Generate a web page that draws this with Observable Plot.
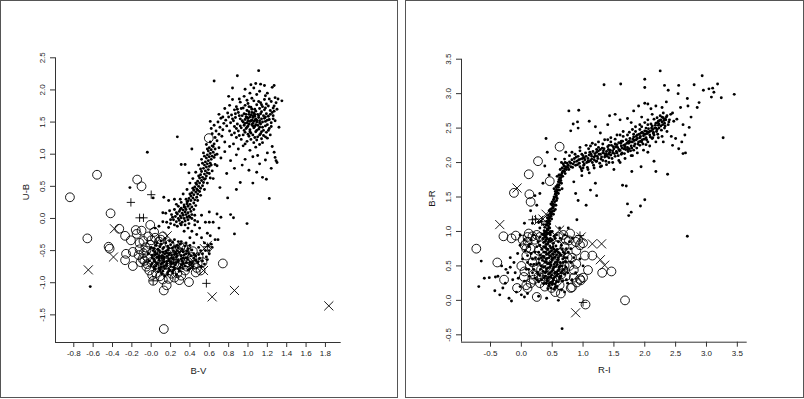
<!DOCTYPE html>
<html><head><meta charset="utf-8">
<script src="https://cdn.jsdelivr.net/npm/d3@7"></script>
<script src="https://cdn.jsdelivr.net/npm/@observablehq/plot@0.6"></script>
<style>
html,body{margin:0;padding:0;background:#fff;}
#wrap{position:relative;width:804px;height:399px;overflow:hidden;background:#fff;}
.panel{position:absolute;top:0;}
.frame{position:absolute;border:1px solid #555;box-sizing:border-box;background:transparent;}
</style></head><body>
<div id="wrap">
 <div class="panel" id="p1" style="left:0"></div>
 <div class="panel" id="p2" style="left:405px"></div>
 <div class="frame" style="left:0;top:0;width:398px;height:398px"></div>
 <div class="frame" style="left:405px;top:0;width:399px;height:398px"></div>
</div>
<script>
// ---------- Left panel: B-V vs U-B ----------
const leftXTicks = [-0.8,-0.6,-0.4,-0.2,0,0.2,0.4,0.6,0.8,1.0,1.2,1.4,1.6,1.8];
const leftXLabels = ["-0.8","-0.6","-0.4","-0.2","-0.0","0.2","0.4","0.6","0.8","1.0","1.2","1.4","1.6","1.8"];
const leftYTicks = [-1.5,-1.0,-0.5,0,0.5,1.0,1.5,2.0,2.5];
const leftYLabels = ["-1.5","-1.0","-0.5","0.0","0.5","1.0","1.5","2.0","2.5"];

const leftDots = [
// red giant clump
[0.92,1.81],[1.00,1.79],[1.06,1.83],[1.13,1.80],[1.19,1.78],[1.24,1.82],
[0.88,1.74],[0.97,1.76],[1.03,1.73],[1.09,1.77],[1.15,1.74],[1.21,1.75],[1.26,1.72],
[0.86,1.69],[0.93,1.71],[0.99,1.68],[1.04,1.70],[1.08,1.67],[1.12,1.71],[1.17,1.69],[1.23,1.68],
[0.90,1.65],[0.96,1.63],[1.01,1.66],[1.06,1.64],[1.10,1.62],[1.14,1.66],[1.19,1.63],[1.25,1.65],
[0.83,1.61],[0.94,1.60],[0.98,1.58],[1.03,1.61],[1.07,1.59],[1.11,1.57],[1.16,1.60],[1.21,1.59],
[0.87,1.57],[0.92,1.55],[0.97,1.54],[1.00,1.56],[1.04,1.53],[1.08,1.55],[1.12,1.52],[1.17,1.56],[1.22,1.54],
[0.85,1.52],[0.95,1.50],[0.99,1.49],[1.02,1.51],[1.05,1.48],[1.09,1.50],[1.13,1.47],[1.18,1.51],[1.24,1.49],
[0.89,1.47],[0.96,1.45],[1.00,1.44],[1.04,1.46],[1.07,1.43],[1.10,1.45],[1.15,1.42],[1.20,1.46],
[0.93,1.41],[0.98,1.40],[1.02,1.38],[1.06,1.41],[1.11,1.39],[1.16,1.37],[1.22,1.40],
[0.90,1.36],[0.97,1.34],[1.03,1.33],[1.08,1.35],[1.13,1.32],[1.19,1.34],
[0.95,1.30],[1.01,1.28],[1.05,1.30],[1.10,1.27],[1.16,1.29],
[1.03,1.23],[1.09,1.22],[1.14,1.24],[0.99,1.20],
[1.01,1.62],[1.05,1.57],[1.03,1.52],[1.07,1.62],[0.98,1.62],[1.09,1.53],[1.06,1.51],[1.02,1.58],[1.11,1.60],[1.14,1.55],[1.00,1.52],[1.04,1.65],[0.97,1.48],[1.08,1.46],[1.12,1.49],
[0.95,1.72],[1.01,1.74],[1.07,1.70],[1.14,1.77],[1.18,1.72],[0.91,1.60],[0.99,1.57],[1.05,1.60],[1.13,1.63],[1.18,1.58],[0.94,1.52],[1.01,1.47],[1.07,1.53],[1.15,1.50],[1.20,1.53],[0.92,1.44],[0.99,1.42],[1.05,1.44],[1.12,1.42],[1.18,1.44],[0.96,1.37],[1.02,1.35],[1.09,1.37],[1.14,1.35],[1.21,1.37],[1.00,1.31],[1.07,1.26],[1.12,1.30],[1.18,1.27],[1.23,1.30],[0.88,1.40],[0.86,1.33],[0.91,1.29],[0.87,1.63],[0.89,1.70],[1.11,1.82],[1.04,1.87],[0.99,1.84],[1.17,1.85],[1.22,1.86],[1.26,1.55],[1.23,1.62],[1.27,1.67],[1.24,1.43],[1.20,1.25],[0.93,1.23],[0.97,1.16],[1.06,1.18],[1.12,1.15],
// upper sparse
[1.11,2.30],[0.89,2.22],[0.65,2.14],[1.03,2.08],[1.08,2.10],[1.17,2.07],[1.27,2.07],[1.25,2.04],[1.13,2.09],[0.84,2.03],[0.97,2.01],[1.06,2.03],[1.12,1.98],[1.20,1.95],[1.28,1.88],[1.35,1.83],[1.31,1.86],[1.18,1.91],[1.09,1.93],[0.96,1.90],[1.02,1.95],[0.91,1.86],[0.81,1.76],[0.76,1.71],[1.29,1.80],[1.27,1.75],[1.30,1.70],[1.26,1.60],[1.28,1.52],[1.32,1.42],[0.84,1.85],[0.80,1.90],
// clump left extension
[0.61,1.51],[0.62,1.40],[0.65,1.45],[0.67,1.36],[0.69,1.50],[0.71,1.42],[0.72,1.56],[0.74,1.38],[0.75,1.48],[0.77,1.53],[0.78,1.44],[0.80,1.58],[0.81,1.36],[0.82,1.49],[0.84,1.55],[0.79,1.64],[0.70,1.31],[0.66,1.26],[0.68,1.21],[0.73,1.28],[0.76,1.19],[0.64,1.12],[0.63,1.32],[0.86,1.43],[0.83,1.30],[0.88,1.26],[0.70,1.62],[0.74,1.58],
// sparse below clump
[0.70,1.10],[0.76,1.04],[0.81,1.12],[0.85,1.16],[0.90,1.08],[0.95,1.13],[1.02,1.06],[1.08,1.11],[1.15,1.18],[1.20,1.02],[1.25,1.12],[0.72,0.94],[0.82,0.90],[0.88,0.99],[0.97,0.92],[1.05,0.96],[1.12,0.85],[1.18,0.91],[1.28,0.95],[1.29,0.90],[1.30,0.87],[0.68,0.82],[0.78,0.70],[0.86,0.78],[0.94,0.83],[1.01,0.75],[1.09,0.72],[1.15,0.64],[1.24,0.78],[0.92,0.56],[1.05,0.55],[1.19,0.61],[0.79,0.32],[1.22,0.31],[0.66,0.99],[0.99,-0.08],[0.82,0.06],[0.85,0.01],[0.86,-0.24],[1.27,1.03],[0.64,0.62],[0.71,0.48],[0.88,0.45],[1.10,0.98],
// scattered
[-0.04,1.03],[0.27,1.27],[0.42,1.08],[0.31,0.84],[0.35,0.84],[0.39,0.71],[-0.22,0.48],[0.02,0.32],[0.13,0.33],[0.18,0.28],[0.24,0.30],[-0.63,-1.06],[0.12,0.09],[0.15,0.08],[0.12,-0.05],[0.16,-0.06],[0.20,-0.02],[0.08,-0.12],[0.04,-0.15],[0.18,-0.14],
// main sequence band
[0.24,-0.10],[0.27,-0.12],[0.30,-0.08],[0.26,-0.05],[0.29,-0.03],[0.32,-0.06],[0.35,-0.04],[0.23,-0.02],[0.28,0.00],[0.31,0.01],[0.34,0.00],[0.37,0.02],[0.25,0.03],[0.30,0.04],[0.33,0.05],[0.36,0.06],[0.39,0.04],[0.27,0.07],[0.32,0.08],[0.35,0.10],[0.38,0.09],[0.41,0.11],[0.29,0.11],[0.33,0.13],[0.36,0.14],[0.40,0.15],[0.31,0.16],[0.35,0.17],[0.38,0.19],[0.42,0.18],[0.34,0.21],[0.37,0.23],[0.40,0.22],[0.44,0.24],[0.38,0.27],[0.41,0.28],[0.45,0.29],[0.39,0.31],[0.43,0.32],[0.47,0.33],[0.41,0.35],[0.44,0.37],[0.48,0.38],[0.42,0.40],[0.46,0.41],[0.50,0.42],[0.44,0.44],[0.47,0.46],[0.51,0.47],[0.45,0.49],[0.49,0.50],[0.53,0.51],[0.47,0.53],[0.50,0.55],[0.54,0.56],[0.48,0.58],[0.52,0.59],[0.55,0.61],[0.50,0.63],[0.53,0.64],[0.57,0.66],[0.51,0.68],[0.55,0.69],[0.58,0.71],[0.52,0.73],[0.56,0.74],[0.59,0.76],[0.54,0.78],[0.57,0.80],[0.60,0.81],[0.55,0.83],[0.58,0.85],[0.61,0.86],[0.56,0.88],[0.59,0.90],[0.62,0.92],[0.57,0.94],[0.60,0.96],[0.63,0.97],[0.58,0.99],[0.61,1.01],[0.64,1.03],[0.59,1.05],[0.62,1.07],[0.60,1.10],[0.63,1.13],[0.65,1.16],[0.61,1.19],
[0.26,0.09],[0.30,0.14],[0.34,0.18],[0.37,0.26],[0.40,0.38],[0.43,0.47],[0.46,0.55],[0.49,0.66],[0.51,0.77],[0.53,0.86],[0.55,0.97],[0.58,1.08],[0.36,0.30],[0.48,0.44],[0.56,0.62],[0.60,0.70],[0.62,0.83],[0.65,0.95],[0.66,1.08],[0.31,-0.10],[0.38,-0.02],[0.42,0.06],[0.44,0.14],[0.46,0.20],[0.21,0.06],[0.24,0.14],[0.28,0.19],
[0.30,0.30],[0.33,0.38],[0.37,0.45],[0.40,0.55],[0.43,0.62],[0.46,0.72],[0.49,0.83],[0.52,0.92],[0.54,1.02],[0.57,1.15],[0.48,0.28],[0.51,0.36],[0.55,0.45],[0.58,0.55],[0.61,0.63],[0.63,0.74],[0.66,0.84],[0.68,1.00],[0.42,0.00],[0.45,-0.03],[0.20,-0.08],[0.22,0.02],[0.19,0.12],[0.26,0.22],[0.31,0.25],[0.40,0.02],[0.35,-0.10],[0.39,-0.08],
// right of band
[0.56,-0.06],[0.60,-0.06],[0.64,-0.06],[0.58,-0.23],[0.61,-0.27],[0.66,-0.33],[0.69,-0.33],[0.45,-0.10],[0.50,-0.15],[0.47,-0.25],[0.52,-0.30],[0.55,-0.38],[0.59,-0.42],[0.63,-0.45],[0.42,-0.20],[0.48,-0.05],[0.52,0.05],[0.45,0.05],[0.38,-0.15],[0.34,-0.20],[0.40,-0.30],[0.44,-0.38],[0.49,-0.45],[0.56,-0.50],[0.60,-0.55],[0.57,-0.60],[0.62,-0.40],[0.53,-0.55],[0.68,0.07],[0.72,0.02],[0.60,0.10],[0.70,-0.15],
// blue cluster
[0.00,-0.45],[0.05,-0.42],[0.10,-0.40],[0.15,-0.38],[0.20,-0.41],[0.25,-0.44],[0.30,-0.40],[0.35,-0.43],
[0.02,-0.50],[0.07,-0.48],[0.12,-0.47],[0.17,-0.49],[0.22,-0.46],[0.27,-0.50],[0.32,-0.48],[0.37,-0.51],[0.42,-0.49],
[-0.03,-0.55],[0.04,-0.56],[0.09,-0.53],[0.14,-0.55],[0.19,-0.54],[0.24,-0.56],[0.29,-0.53],[0.34,-0.57],[0.39,-0.55],
[0.01,-0.61],[0.06,-0.60],[0.11,-0.62],[0.16,-0.59],[0.21,-0.62],[0.26,-0.60],[0.31,-0.63],[0.36,-0.61],[0.44,-0.62],
[-0.02,-0.66],[0.03,-0.67],[0.08,-0.65],[0.13,-0.68],[0.18,-0.66],[0.23,-0.69],[0.28,-0.67],[0.33,-0.70],[0.40,-0.68],
[0.00,-0.72],[0.05,-0.74],[0.10,-0.71],[0.15,-0.73],[0.20,-0.75],[0.25,-0.72],[0.30,-0.76],[0.35,-0.74],
[0.04,-0.79],[0.09,-0.80],[0.14,-0.78],[0.19,-0.81],[0.24,-0.79],[0.29,-0.82],
[0.11,-0.86],[0.17,-0.87],[0.22,-0.85],[0.08,-0.58],[0.18,-0.57],[0.13,-0.63],[0.23,-0.64],[0.16,-0.70],[0.06,-0.69],[0.27,-0.58],[0.12,-0.52],[0.20,-0.68],[0.15,-0.51],[0.10,-0.76],[0.25,-0.52],[0.32,-0.66],[0.09,-0.44],[0.19,-0.35],[0.14,-0.31],[0.24,-0.33],[0.46,-0.58],[0.50,-0.62],[0.48,-0.68],[0.53,-0.66],[0.55,-0.71],[0.58,-0.64],[0.60,-0.50],[0.52,-0.75],[0.38,-0.80],[0.43,-0.75],[0.06,-0.38],[0.28,-0.36],
[0.03,-0.47],[0.08,-0.50],[0.13,-0.45],[0.18,-0.46],[0.23,-0.50],[0.28,-0.46],[0.33,-0.52],[0.38,-0.47],[0.01,-0.57],[0.06,-0.55],[0.11,-0.58],[0.16,-0.54],[0.21,-0.57],[0.26,-0.55],[0.31,-0.58],[0.36,-0.55],[0.41,-0.58],[0.03,-0.63],[0.08,-0.62],[0.13,-0.60],[0.18,-0.63],[0.23,-0.61],[0.28,-0.64],[0.33,-0.62],[0.38,-0.64],[0.01,-0.70],[0.06,-0.71],[0.11,-0.69],[0.16,-0.67],[0.21,-0.71],[0.26,-0.69],[0.31,-0.72],[0.36,-0.69],[0.03,-0.76],[0.08,-0.77],[0.13,-0.75],[0.18,-0.78],[0.23,-0.76],[0.28,-0.78],[0.33,-0.78],[0.07,-0.83],[0.12,-0.82],[0.17,-0.84],[0.22,-0.82],[0.26,-0.88],[0.14,-0.90],[0.10,-0.35],[0.17,-0.43],[0.22,-0.37],[0.27,-0.42],[0.31,-0.36],[0.36,-0.38],[0.40,-0.42],[0.04,-0.52],[0.44,-0.55],[0.46,-0.65],[0.42,-0.70],[0.40,-0.78],[0.49,-0.56],[0.51,-0.50]
];
const leftCircles = [
[-0.84,0.33],[-0.56,0.68],[-0.145,0.605],[-0.10,0.50],[-0.42,0.08],[-0.66,-0.31],[-0.44,-0.44],[-0.43,-0.47],[-0.33,-0.16],[-0.27,-0.27],[-0.26,-0.55],[-0.27,-0.65],[-0.19,-0.52],[-0.19,-0.74],[-0.21,-0.34],[-0.16,-0.18],[-0.15,-0.24],[-0.10,-0.19],[-0.08,-0.35],[-0.01,-0.10],[0.03,-0.21],[0.10,-0.33],[-0.09,-0.63],[-0.05,-0.50],[-0.04,-0.71],[-0.02,-0.81],[0.02,-0.97],[0.13,-1.12],[0.16,-1.04],[0.18,-0.94],[0.13,-1.72],[0.29,-0.96],[0.39,-0.99],[0.595,1.25],[0.74,-0.70],[0.21,-0.86],[0.30,-0.63],[0.35,-0.81],[0.42,-0.60],[0.43,-0.51],[0.46,-0.84],[0.51,-0.81],[0.48,-0.70],[0.53,-0.68],
[-0.04,-0.60],[0.00,-0.68],[0.07,-0.76],[0.09,-0.66],[0.14,-0.80],[0.20,-0.76],[0.24,-0.70],[0.07,-0.55],[0.17,-0.56],[-0.01,-0.41],[0.04,-0.30],[0.12,-0.28],[0.26,-0.48],[0.33,-0.45],[0.38,-0.68],[0.05,-0.85],[0.27,-0.85],[0.44,-0.72],[-0.07,-0.66],[0.22,-0.60],[0.02,-0.52],[-0.12,-0.38],[-0.03,-0.28],[0.09,-0.90],[0.34,-0.56],
[-0.06,-0.45],[-0.08,-0.54],[-0.05,-0.75],[0.01,-0.88],[0.12,-0.95],[0.24,-0.92],[0.31,-0.89],[0.37,-0.75],[0.41,-0.66],[0.47,-0.77],[0.49,-0.60],[0.36,-0.48],[0.30,-0.45],[0.19,-0.40],[0.08,-0.36],[0.00,-0.34],[-0.12,-0.48],[-0.13,-0.57],[-0.11,-0.68],[0.16,-0.67],[0.28,-0.72],[0.06,-0.62],[0.22,-0.52],[0.12,-0.72]
];
const leftCrosses = [[-0.65,-0.80],[-0.39,-0.60],[-0.38,-0.16],[0.63,-1.22],[0.86,-1.12],[1.835,-1.36],[0.54,-0.81],[0.55,-0.47],[0.165,-0.27],[0.58,-0.42],[0.40,-0.72]];
const leftPluses = [[-0.21,0.25],[0.00,0.37],[-0.12,0.01],[-0.08,0.01],[0.57,-1.01],[0.02,-0.97],[0.58,-0.44]];

// ---------- Right panel: R-I vs B-R ----------
const rightXTicks = [-0.5,0,0.5,1.0,1.5,2.0,2.5,3.0,3.5];
const rightXLabels = ["-0.5","0.0","0.5","1.0","1.5","2.0","2.5","3.0","3.5"];
const rightYTicks = [-0.5,0,0.5,1.0,1.5,2.0,2.5,3.0,3.5];
const rightYLabels = ["-0.5","0.0","0.5","1.0","1.5","2.0","2.5","3.0","3.5"];

const rightDots = [
// steep giant branch
[0.40,1.00],[0.42,1.04],[0.44,1.08],[0.43,1.12],[0.46,1.15],[0.45,1.19],[0.48,1.22],[0.47,1.26],[0.50,1.29],[0.49,1.33],[0.52,1.36],[0.51,1.40],[0.54,1.43],[0.53,1.47],[0.56,1.50],[0.55,1.54],[0.58,1.57],[0.57,1.61],[0.60,1.64],[0.59,1.68],[0.62,1.71],[0.61,1.75],[0.64,1.78],[0.63,1.82],[0.66,1.85],[0.68,1.88],[0.70,1.91],[0.72,1.94],
[0.38,1.06],[0.41,1.15],[0.44,1.24],[0.47,1.32],[0.50,1.38],[0.52,1.46],[0.55,1.58],[0.58,1.66],[0.60,1.72],[0.65,1.70],[0.62,1.60],[0.57,1.45],[0.53,1.30],[0.49,1.18],[0.46,1.05],[0.43,0.98],[0.39,0.95],[0.67,1.80],[0.69,1.95],[0.74,1.99],[0.71,1.84],[0.48,1.40],[0.56,1.38],[0.45,1.30],[0.60,1.55],[0.66,1.62],[0.63,1.90],[0.58,1.80],[0.53,1.62],[0.42,1.20],[0.36,1.10],[0.32,1.15],[0.30,1.05],[0.28,1.13],
[0.41,1.09],[0.44,1.17],[0.46,1.21],[0.48,1.28],[0.51,1.34],[0.50,1.43],[0.53,1.50],[0.54,1.39],[0.56,1.55],[0.57,1.52],[0.59,1.60],[0.61,1.67],[0.62,1.78],[0.64,1.74],[0.65,1.82],[0.67,1.87],[0.66,1.92],[0.70,1.87],[0.73,1.90],[0.75,1.93],[0.46,1.11],[0.42,1.02],[0.47,1.00],[0.40,1.10],[0.44,1.13],[0.52,1.25],[0.55,1.32],[0.49,1.25],[0.58,1.48],[0.56,1.65],[0.61,1.82],[0.68,1.98],[0.71,2.00],[0.77,1.90],[0.80,1.99],[0.83,1.93],[0.86,2.01],[0.89,2.08],[0.91,1.97],[0.93,2.04],[0.99,2.06],[1.01,1.96],[0.95,1.94],
// upper giant branch
[0.76,1.96],[0.78,2.01],[0.80,1.94],[0.82,2.04],[0.84,1.98],[0.86,2.06],[0.88,1.96],[0.90,2.02],[0.92,2.09],[0.94,1.99],[0.96,2.05],[0.98,2.12],[1.00,2.01],[1.02,2.07],[1.04,2.14],[1.06,2.00],[1.08,2.06],[1.10,2.11],[1.12,2.03],[1.14,2.09],[1.16,2.16],[1.18,2.04],[1.20,2.10],[1.22,2.15],[1.24,2.06],[1.26,2.12],[1.28,2.19],[1.30,2.08],[1.32,2.14],[1.34,2.20],[1.36,2.10],[1.38,2.16],[1.40,2.23],[1.42,2.12],[1.44,2.18],[1.46,2.25],[1.48,2.14],[1.50,2.20],[1.52,2.27],[1.54,2.16],[1.56,2.22],[1.58,2.29],[1.60,2.18],[1.62,2.24],[1.64,2.31],[1.66,2.20],[1.68,2.26],[1.70,2.33],[1.72,2.22],[1.74,2.28],[1.76,2.35],[1.78,2.24],[1.80,2.30],[1.82,2.37],[1.84,2.27],[1.86,2.33],[1.88,2.40],[1.90,2.30],[1.92,2.36],[1.94,2.43],[1.96,2.33],[1.98,2.39],[2.00,2.46],[2.02,2.36],[2.04,2.42],[2.06,2.49],[2.08,2.40],[2.10,2.46],[2.12,2.53],[2.14,2.44],[2.16,2.50],[2.18,2.57],[2.20,2.48],[2.22,2.54],[2.24,2.61],[2.26,2.53],[2.28,2.59],[2.30,2.65],[2.32,2.57],[2.34,2.62],[2.36,2.68],[2.27,2.47],[2.21,2.41],[2.13,2.36],[2.05,2.30],[1.97,2.27],[1.87,2.21],[1.77,2.17],[1.67,2.13],[1.57,2.10],[1.47,2.06],[1.37,2.02],[1.27,1.99],[1.17,1.96],[1.07,1.93],[0.97,1.91],
[1.03,2.04],[1.13,2.12],[1.23,2.09],[1.33,2.17],[1.43,2.15],[1.53,2.23],[1.63,2.21],[1.73,2.30],[1.83,2.32],[1.93,2.38],[2.03,2.45],[2.13,2.48],[2.23,2.56],[2.33,2.63],[1.25,2.22],[1.45,2.30],[1.65,2.38],[1.85,2.45],[2.05,2.55],[2.25,2.68],[1.15,2.00],[1.35,2.08],[1.55,2.14],[1.75,2.20],[1.95,2.30],[2.15,2.40],[0.87,2.12],[0.95,2.17],[1.09,2.20],[1.20,2.26],[1.40,2.33],[1.60,2.40],[1.80,2.48],[2.00,2.58],[2.20,2.65],[2.40,2.62],[2.38,2.55],[2.42,2.70],
[1.05,2.09],[1.09,2.01],[1.11,2.15],[1.14,2.05],[1.19,2.13],[1.21,2.02],[1.25,2.17],[1.29,2.05],[1.31,2.21],[1.35,2.13],[1.39,2.09],[1.41,2.19],[1.45,2.11],[1.49,2.23],[1.51,2.13],[1.55,2.26],[1.59,2.17],[1.61,2.28],[1.63,2.14],[1.66,2.25],[1.69,2.19],[1.71,2.28],[1.73,2.16],[1.75,2.31],[1.79,2.21],[1.81,2.34],[1.83,2.24],[1.86,2.38],[1.89,2.27],[1.91,2.41],[1.93,2.31],[1.96,2.44],[1.99,2.34],[2.01,2.41],[2.03,2.33],[2.06,2.44],[2.09,2.37],[2.11,2.50],[2.14,2.42],[2.17,2.54],[2.19,2.45],[2.21,2.58],[2.23,2.50],[2.26,2.62],[2.29,2.55],[2.31,2.61],[2.33,2.53],[2.35,2.66],[2.39,2.59],[2.28,2.66],[2.18,2.50],[2.08,2.45],[1.98,2.42],[1.88,2.35],[1.78,2.30],[1.68,2.23],[1.58,2.19],[1.48,2.17],[1.38,2.12],[1.28,2.12],[1.18,2.08],[1.08,2.02],[1.00,2.10],[1.22,2.19],[1.42,2.25],[1.62,2.31],[1.82,2.41],[2.02,2.50],[2.22,2.60],[1.32,2.03],[1.52,2.09],[1.72,2.19],[1.92,2.25],[2.12,2.35],[2.32,2.50],
[0.95,2.22],[1.05,2.25],[1.15,2.28],[1.25,2.30],[1.35,2.33],[1.45,2.36],[1.55,2.40],[1.65,2.45],[1.75,2.44],[1.85,2.52],[1.95,2.52],[2.05,2.62],[2.15,2.63],[2.30,2.72],[0.98,1.88],[1.08,1.90],[1.18,1.92],[1.28,1.94],[1.38,1.97],[1.48,2.00],[1.58,2.03],[1.68,2.06],[1.78,2.10],[1.88,2.14],[1.98,2.18],[2.08,2.24],[2.18,2.30],[2.28,2.38],[2.36,2.45],[1.12,2.24],[1.32,2.27],[1.52,2.34],[1.72,2.40],[1.92,2.48],[2.10,2.56],[1.02,1.98],[1.22,2.02],[1.42,2.07],[1.62,2.12],[1.82,2.18],[2.02,2.26],[2.22,2.36],[0.82,2.15],[0.78,2.10],[0.70,2.05],[0.65,2.00],
// scatter above branch
[2.25,3.33],[2.00,3.21],[2.00,3.09],[1.34,3.13],[1.61,3.14],[2.93,3.26],[2.80,3.13],[3.18,3.14],[3.45,2.99],[2.69,2.93],[2.88,2.87],[3.24,2.94],[3.12,3.02],[3.08,2.95],[3.04,3.07],[2.55,3.12],[2.54,3.00],[2.38,3.05],[2.32,3.12],[3.27,2.36],[2.69,0.93],[0.66,-0.41],[0.93,2.76],[0.91,2.59],[0.84,2.56],[0.80,2.46],[1.10,2.60],[1.20,2.52],[1.28,2.43],[1.40,2.55],[1.43,2.68],[1.52,2.70],[1.60,2.62],[1.72,2.64],[1.82,2.75],[1.90,2.82],[2.00,2.86],[2.05,2.85],[2.10,2.78],[2.18,2.82],[2.28,2.80],[2.35,2.88],[2.45,2.72],[2.52,2.63],[2.58,2.80],[2.62,2.55],[2.65,2.40],[2.70,2.82],[2.72,2.51],[2.60,2.30],[2.55,2.20],[2.66,2.14],[2.62,2.13],[2.50,2.35],[2.47,2.60],[2.43,2.38],[2.85,2.80],[2.95,3.05],[3.10,3.08],[2.75,2.66],[1.92,2.55],[1.95,2.66],[2.12,2.70],[1.78,2.58],
// scatter below branch
[0.85,1.72],[1.72,1.40],[1.64,1.67],[1.70,1.66],[1.74,1.23],[1.78,1.28],[1.93,1.37],[2.00,1.46],[2.37,1.83],[2.18,1.87],[1.94,1.94],[1.79,1.87],[2.15,2.02],[1.50,1.90],[1.30,1.95],[1.10,1.85],[0.98,1.81],[1.42,2.00],[1.20,1.70],[1.05,1.38],[1.22,1.52],[1.12,1.60],[0.92,1.45],[0.88,1.55],[1.60,2.00],[1.80,2.10],[2.05,2.15],[2.30,2.30],[2.45,2.25],[1.00,1.92],
[0.42,2.15],[0.38,1.95],[0.45,1.82],[0.30,1.55],[0.22,1.52],[0.35,1.70],[0.25,1.38],[0.18,1.12],[0.40,2.35],[0.55,2.05],[0.72,2.15],[0.77,2.75],[0.92,2.50],
// lower cluster
[0.35,0.90],[0.40,0.92],[0.45,0.88],[0.38,0.85],[0.43,0.82],[0.48,0.86],[0.36,0.78],[0.41,0.75],[0.46,0.79],[0.51,0.77],[0.39,0.70],[0.44,0.68],[0.49,0.72],[0.54,0.70],[0.37,0.63],[0.42,0.61],[0.47,0.65],[0.52,0.62],[0.57,0.66],[0.40,0.56],[0.45,0.54],[0.50,0.58],[0.55,0.55],[0.60,0.59],[0.38,0.49],[0.43,0.47],[0.48,0.51],[0.53,0.48],[0.58,0.52],[0.63,0.50],[0.41,0.42],[0.46,0.40],[0.51,0.44],[0.56,0.41],[0.61,0.45],[0.66,0.42],[0.39,0.35],[0.44,0.33],[0.49,0.37],[0.54,0.34],[0.59,0.38],[0.64,0.35],[0.42,0.28],[0.47,0.26],[0.52,0.30],[0.57,0.27],[0.62,0.31],[0.45,0.21],[0.50,0.23],[0.55,0.19],[0.33,0.74],[0.31,0.66],[0.34,0.58],[0.32,0.50],[0.35,0.42],[0.30,0.36],[0.33,0.30],[0.36,0.24],[0.68,0.55],[0.70,0.62],[0.72,0.48],[0.75,0.40],[0.68,0.70],[0.73,0.75],[0.65,0.80],[0.60,0.85],[0.55,0.90],[0.62,0.68],[0.58,0.74],[0.52,0.83],[0.47,0.95],[0.44,0.97],[0.37,0.97],[0.30,0.92],[0.27,0.85],[0.25,0.78],[0.22,0.70],[0.28,0.60],[0.25,0.52],[0.20,0.45],[0.26,0.40],[0.22,0.32],[0.28,0.27],[0.18,0.60],[0.15,0.52],[0.12,0.78],[0.16,0.88],[0.20,0.95],[0.10,0.65],[0.08,0.45],[0.13,0.35],[0.05,0.28],
[0.36,0.95],[0.39,0.99],[0.41,0.96],[0.43,1.02],[0.37,1.01],[0.34,0.96],[0.40,0.88],[0.42,0.90],[0.38,0.92],[0.36,0.84],[0.40,0.81],[0.44,0.85],[0.47,0.90],[0.50,0.88],[0.53,0.93],[0.39,0.77],[0.43,0.74],[0.48,0.76],[0.53,0.74],[0.56,0.79],[0.37,0.70],[0.41,0.67],[0.46,0.70],[0.51,0.67],[0.56,0.72],[0.60,0.70],[0.35,0.64],[0.40,0.60],[0.45,0.62],[0.50,0.60],[0.55,0.63],[0.60,0.62],[0.64,0.66],[0.38,0.56],[0.43,0.53],[0.48,0.55],[0.53,0.52],[0.58,0.56],[0.63,0.55],[0.36,0.48],[0.41,0.46],[0.46,0.48],[0.51,0.46],[0.56,0.49],[0.61,0.48],[0.66,0.50],[0.39,0.40],[0.44,0.38],[0.49,0.42],[0.54,0.39],[0.59,0.43],[0.64,0.40],[0.37,0.33],[0.42,0.31],[0.47,0.34],[0.52,0.32],[0.57,0.36],[0.62,0.34],[0.40,0.25],[0.45,0.24],[0.50,0.27],[0.55,0.24],[0.60,0.27],[0.48,0.18],[0.53,0.16],[0.58,0.20],[0.43,0.17],[0.30,0.80],[0.28,0.70],[0.32,0.62],[0.29,0.54],[0.31,0.45],[0.27,0.38],[0.25,0.30],[0.23,0.62],[0.20,0.52],[0.18,0.40],[0.16,0.68],[0.14,0.82],[0.10,0.55],[0.12,0.45],[0.06,0.72],[0.66,0.74],[0.70,0.68],[0.67,0.60],[0.72,0.56],[0.74,0.62],[0.69,0.45],[0.73,0.30],[0.67,0.28],[0.70,0.38],[0.76,0.70],[0.80,0.75],[0.63,0.90],[0.57,0.95],[0.50,1.00],[0.45,1.05],[0.47,0.98],
[-0.65,0.57],[-0.69,0.20],[-0.60,0.32],[-0.52,0.33],[-0.43,0.14],[-0.42,0.34],[-0.38,0.35],[-0.35,0.08],[-0.30,0.18],[-0.26,0.25],[-0.20,0.03],[-0.16,-0.01],[-0.22,0.40],[-0.18,0.48],[-0.12,0.55],[-0.25,0.45],[-0.32,0.50],[-0.10,0.40],[-0.05,0.32],[-0.02,0.20],[-0.08,0.12],[0.00,0.08],[0.05,0.05],[0.10,0.10],[-0.14,0.30],[-0.06,0.68],[-0.02,0.80],[0.05,0.88],[0.02,0.60],[-0.18,0.62],[0.75,0.25],[0.80,0.55],[0.82,0.30],[0.85,0.62],[0.88,0.40],[0.78,0.85],[0.83,0.90],[0.90,1.17],[0.62,1.05],[0.70,0.95],[0.76,1.05],[0.41,0.03],[0.28,0.06],[0.65,0.15],[0.70,0.12],[0.95,0.60],[1.00,0.50],[0.60,0.00],[0.15,1.30],[0.05,1.12],[-0.02,0.95]
];
const rightCircles = [
[-0.73,0.75],[-0.29,0.93],[-0.09,0.94],[-0.16,0.90],[-0.39,0.55],[-0.28,0.30],[-0.07,0.18],[0.25,0.05],[-0.12,1.56],[0.12,1.83],[0.13,1.54],[0.15,1.43],[0.27,2.02],[0.62,2.23],[0.46,1.73],[1.04,-0.06],[1.68,-0.00],[1.31,0.40],[1.46,0.42],[1.15,0.65],[1.03,0.65],[1.08,0.44],[1.00,0.33],[0.96,0.29],[0.82,0.19],[0.64,0.10],[0.49,0.18],[0.08,0.22],[0.04,0.34],[0.20,0.38],[0.77,0.87],[1.00,0.83],[0.89,0.72],[0.89,0.53],[0.85,0.44],[0.68,0.45],[0.79,0.97],
[0.05,0.80],[0.02,0.88],[0.10,0.92],[0.12,0.97],[0.15,0.75],[0.08,0.65],[0.18,0.55],[0.00,0.50],[0.05,0.42],[0.20,0.30],[0.28,0.35],[0.32,0.45],[0.38,0.30],[0.45,0.28],[0.55,0.35],[0.60,0.45],[0.65,0.60],[0.70,0.78],[0.60,0.92],[0.48,0.70],[0.52,0.55],[0.42,0.60],[0.35,0.55],[0.28,0.72],[0.22,0.88],[0.30,0.92],[0.72,0.35],[0.78,0.50],[0.62,0.22],[0.55,0.12],[0.38,0.20],[0.15,0.25],[0.10,0.18],[0.82,0.62],[0.92,0.88],[0.58,0.80],[0.40,0.48],[0.68,0.95],[0.95,0.31],[0.80,0.18],
[0.10,0.85],[0.18,0.93],[0.25,0.95],[0.08,0.75],[0.22,0.65],[0.25,0.48],[0.30,0.25],[0.42,0.35],[0.50,0.30],[0.58,0.28],[0.65,0.38],[0.70,0.50],[0.75,0.62],[0.72,0.88],[0.65,0.70],[0.55,0.65],[0.45,0.78],[0.35,0.82],[0.48,0.92],[0.88,0.85],[0.95,0.80],[0.85,0.33],[0.90,0.26]
];
const rightCrosses = [[-0.35,1.10],[-0.07,1.63],[1.15,0.82],[1.30,0.82],[1.28,0.59],[1.35,0.51],[0.88,-0.18],[0.28,1.16],[0.40,1.25],[0.62,1.02],[0.97,0.92],[0.35,1.18]];
const rightPluses = [[0.23,1.18],[1.00,-0.03],[0.33,1.14],[0.95,0.94],[0.18,1.17]];

const FONT = "'Liberation Sans', Arial, Helvetica, sans-serif";
const INK = "#1a1a1a";

function panel(cfg) {
  const px = d => d[0], py = d => d[1];
  return Plot.plot({
    width: cfg.width, height: 399,
    marginLeft: cfg.m[0], marginRight: cfg.m[1], marginTop: cfg.m[2], marginBottom: cfg.m[3],
    x: {domain: cfg.xDomain}, y: {domain: cfg.yDomain},
    style: {fontFamily: FONT, background: "transparent", color: INK},
    marks: [
      Plot.ruleX([cfg.xDomain[0]], {stroke: "#333", strokeWidth: 1}),
      Plot.ruleY([cfg.yDomain[0]], {stroke: "#333", strokeWidth: 1}),
      Plot.axisX({ticks: cfg.xTicks, tickSize: 5, tickPadding: 3, fontSize: 8, label: null,
        stroke: "#333", tickFormat: d => cfg.xLabels[cfg.xTicks.indexOf(d)]}),
      Plot.axisY({ticks: cfg.yTicks, tickSize: 5, label: null, stroke: "#333", tickFormat: () => ""}),
      Plot.text(cfg.yTicks, {y: d => d, frameAnchor: "left", text: (d, i) => cfg.yLabels[i],
        rotate: -90, dx: -13, fontSize: 8, lineAnchor: "middle", textAnchor: "middle", fill: INK}),
      Plot.text([cfg.xTitle], {frameAnchor: "bottom", dy: 28, fontSize: 9.5, lineAnchor: "middle", fill: INK}),
      Plot.text([cfg.yTitle], {frameAnchor: "left", rotate: -90, dx: -30, dy: cfg.yTitleDy, fontSize: 9.5, lineAnchor: "middle", fill: INK}),
      Plot.dot(cfg.dots, {x: px, y: py, r: 1.45, fill: "#000", stroke: "none"}),
      Plot.dot(cfg.circles, {x: px, y: py, r: 4.4, fill: "none", stroke: "#000", strokeWidth: 0.9}),
      Plot.dot(cfg.crosses, {x: px, y: py, symbol: "times", r: 4.2, stroke: "#000", strokeWidth: 0.9}),
      Plot.dot(cfg.pluses, {x: px, y: py, symbol: "plus", r: 2.8, stroke: "#000", strokeWidth: 0.9})
    ]
  });
}

document.getElementById("p1").appendChild(panel({
  width: 400, m: [55, 59.3, 57.3, 57],
  xDomain: [-0.989, 1.963], yDomain: [-1.93, 2.5],
  xTicks: leftXTicks, xLabels: leftXLabels, yTicks: leftYTicks, yLabels: leftYLabels,
  xTitle: "B-V", yTitle: "U-B", yTitleDy: 0,
  dots: leftDots, circles: leftCircles, crosses: leftCrosses, pluses: leftPluses
}));
document.getElementById("p2").appendChild(panel({
  width: 399, m: [56, 57.3, 58.7, 57.3],
  xDomain: [-0.97, 3.66], yDomain: [-0.607, 3.5],
  xTicks: rightXTicks, xLabels: rightXLabels, yTicks: rightYTicks, yLabels: rightYLabels,
  xTitle: "R-I", yTitle: "B-R", yTitleDy: 6,
  dots: rightDots, circles: rightCircles, crosses: rightCrosses, pluses: rightPluses
}));
</script>
</body></html>
